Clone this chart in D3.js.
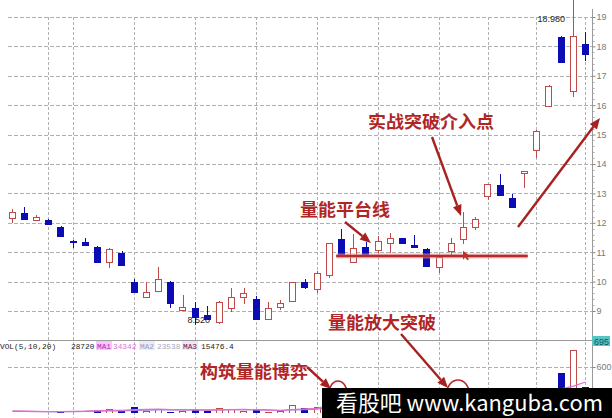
<!DOCTYPE html>
<html><head><meta charset="utf-8">
<script src="https://cdn.jsdelivr.net/npm/d3@7"></script>
<style>body{margin:0;background:#fff;overflow:hidden}svg{display:block}</style>
</head><body><svg id="c" width="612" height="418"></svg>
<script>
// ---------- data ----------
const days  = [0,1,2,3,4,5,6,7,8,9,10,11,12,13,14,15,16,17,18,19,20,21,22,23,24,25,26,27,28,29,30,31,32,33,34,35,36,37,38,39,40,41,42,43,44,45,46,47];
const opens = [12.17,12.32,12.10,12.10,11.87,11.38,11.33,11.19,10.68,10.98,10.00,9.47,9.69,10.00,9.03,9.11,8.86,8.64,9.09,9.47,9.41,8.73,9.15,9.34,9.98,9.74,10.22,11.44,10.68,11.16,11.07,11.30,11.47,11.24,11.10,10.49,11.05,11.44,11.87,12.92,13.29,12.83,13.68,14.48,15.98,18.33,16.49,18.07];
const highs = [12.46,12.55,12.27,12.14,11.90,11.40,11.47,11.21,11.15,11.04,10.09,10.00,10.49,10.02,9.54,9.32,9.18,9.34,9.77,9.79,9.51,9.32,9.37,10.00,10.09,10.37,11.30,11.78,11.62,11.36,11.55,11.66,11.49,11.58,11.13,10.87,11.49,12.36,12.20,13.32,13.66,12.97,13.77,15.15,16.68,18.35,19.60,18.48];
const lows  = [11.98,12.10,12.06,11.93,11.52,11.13,11.24,10.62,10.45,10.55,9.62,9.45,9.67,9.11,9.02,8.52,8.70,8.55,8.98,9.24,8.69,8.71,9.03,9.32,9.75,9.60,10.11,10.88,10.66,10.90,10.96,10.98,11.31,11.17,10.50,10.30,10.90,11.28,11.76,12.78,12.93,12.52,13.20,14.19,15.97,17.46,16.27,17.50];
const closes= [12.36,12.13,12.21,11.95,11.55,11.33,11.25,10.68,11.11,10.56,9.64,9.66,10.09,9.26,9.15,8.81,8.73,9.29,9.46,9.60,8.73,9.11,9.28,9.98,9.81,10.28,11.30,10.90,11.15,10.90,11.38,11.47,11.32,11.17,10.53,10.85,11.30,11.85,12.12,13.31,12.95,12.53,13.76,15.13,16.66,17.48,18.35,17.73];
const volumes=[430,428,426,432,434,430,431,443,447,438,454,440,447,436,438,442,440,450,447,441,443,436,440,461,450,454,500,495,470,460,455,458,450,445,470,462,480,505,490,500,495,480,500,515,520,578,662,527];
const ma1    =[440,439,438,437,437,438,439,441,442,442,444,445,446,444,443,444,441,443,444,445,443,442,441,444,447,449,462,471,477,479,474,468,462,456,457,458,463,474,481,487,494,492,492,497,502,520,530,545];
const ma2    =[438,438,437,437,437,437,438,439,440,440,441,442,443,443,443,443,443,443,444,444,444,443,442,443,444,446,452,457,461,462,462,461,461,461,462,464,466,469,472,474,477,479,482,486,490,500,508,516];
const priceTicks = [9,10,11,12,13,14,15,16,17,18,19];
const volTicks   = [600];
const gridDays   = [3,5,10,15,20,25,30,35,39,43,47];
const maxLabel = {day:46, price:18.98, text:"18.980"};
const minLabel = {day:15, price:8.52, text:"8.520"};
const platform = {from:26.6, to:42.3, price:10.87};
const volHeader = [
  {t:"VOL(5,10,20)", x:0, c:"#222"},
  {t:"28720", x:71, c:"#222"},
  {t:"MA1", x:97, c:"#c020c0", bg:"#f6c8f6"},
  {t:"34342", x:113, c:"#e070e0"},
  {t:"MA2", x:140, c:"#9a9ac8", bg:"#ececf6"},
  {t:"23538", x:157, c:"#a8a8bc"},
  {t:"MA3", x:183, c:"#602050", bg:"#f4e4ee"},
  {t:"15476.4", x:201, c:"#222"}
];
const notes = [
  {t:"实战突破介入点", x:368, y:128},
  {t:"量能平台线", x:300, y:216},
  {t:"量能放大突破", x:328, y:329},
  {t:"构筑量能博弈", x:200, y:378}
];
const arrows = [
  {x1:432, y1:137, x2:461, y2:216},
  {x1:345, y1:222, x2:371, y2:243},
  {x1:518, y1:227, x2:600, y2:118},
  {x1:401, y1:334, x2:448, y2:388},
  {x1:307, y1:367, x2:331, y2:389}
];
const circles = [{cx:338, cy:393, rx:9, ry:12},{cx:458, cy:393, rx:11, ry:13}];

// ---------- layout ----------
const L = 8, R = 592, mainBot = 340, volTop = 340, volBot = 413;
const svg = d3.select("#c");
const x = d3.scaleBand().domain(days).range([5.6, 591.2]).paddingInner(0.5).paddingOuter(0.25);
const xi = d3.scaleLinear().domain([0, 47]).range([x(0)+x.bandwidth()/2, x(47)+x.bandwidth()/2]);
const cx = d => Math.round(x(d) + x.bandwidth()/2) + 0.5;
const y = d3.scaleLinear().domain([9, 19]).range([311, 17]);
const vy = d3.scaleLinear().domain([600, 695]).range([367, 341]);
const UP = "#c04a4a", DN = "#0c0cb4", GRID = "#b0b0b0";

svg.append("rect").attr("width",612).attr("height",418).attr("fill","#fff");
const defs = svg.append("defs");
defs.append("clipPath").attr("id","mainClip").append("rect").attr("x",L).attr("y",0).attr("width",R-L).attr("height",mainBot);
defs.append("clipPath").attr("id","volClip").append("rect").attr("x",L).attr("y",volTop).attr("width",R-L).attr("height",volBot-volTop);

// grid
const g = svg.append("g").attr("shape-rendering","crispEdges");
g.selectAll(".hg").data(priceTicks).join("line")
  .attr("x1",L).attr("x2",R).attr("y1",d=>Math.round(y(d))+0.5).attr("y2",d=>Math.round(y(d))+0.5)
  .attr("stroke",GRID).attr("stroke-dasharray","4,2");
g.selectAll(".vg").data(gridDays).join("line")
  .attr("x1",d=>cx(d)).attr("x2",d=>cx(d)).attr("y1",Math.round(y(19))).attr("y2",418)
  .attr("stroke",GRID).attr("stroke-dasharray","3,2");
g.selectAll(".vvg").data(volTicks).join("line")
  .attr("x1",L).attr("x2",R).attr("y1",d=>Math.round(vy(d))+0.5).attr("y2",d=>Math.round(vy(d))+0.5)
  .attr("stroke",GRID).attr("stroke-dasharray","4,2");
g.append("line").attr("x1",L).attr("x2",R).attr("y1",volTop+0.5).attr("y2",volTop+0.5).attr("stroke","#9a9a9a");

// right axes
const ax = svg.append("g").attr("transform",`translate(${R+0.5},0)`);
ax.call(d3.axisRight(y).tickValues(priceTicks).tickSize(3).tickFormat(d3.format("d")));
ax.select(".domain").attr("stroke","#9a9a9a").attr("d",`M0,${y(19)-8}V418`);
ax.selectAll(".tick line").attr("stroke","#888");
ax.selectAll(".tick text").attr("x",4).attr("fill","#7a7a7a").style("font","9px 'Liberation Sans', sans-serif");
const minor = d3.range(0, priceTicks.length-1).flatMap(i => [0.2,0.4,0.6,0.8].map(f => priceTicks[i]+f));
ax.selectAll(".mt").data(minor).join("line").attr("x1",0).attr("x2",2)
  .attr("y1",d=>Math.round(y(d))+0.5).attr("y2",d=>Math.round(y(d))+0.5).attr("stroke","#aaa");
const vax = svg.append("g").attr("transform",`translate(${R+0.5},0)`);
vax.call(d3.axisRight(vy).tickValues(volTicks).tickSize(3).tickFormat(d3.format("d")));
vax.select(".domain").remove();
vax.selectAll(".tick line").attr("stroke","#888");
vax.selectAll(".tick text").attr("x",4).attr("fill","#7a7a7a").style("font","9px 'Liberation Sans', sans-serif");
svg.append("rect").attr("x",R).attr("y",336).attr("width",18).attr("height",10).attr("fill","#58c4c4");
svg.append("text").attr("x",R+2).attr("y",344.5).text("695").attr("fill","#14506a").style("font","9px 'Liberation Sans', sans-serif");

// candles
const cg = svg.append("g").attr("clip-path","url(#mainClip)").attr("shape-rendering","crispEdges");
days.forEach(d => {
  const o = opens[d], c = closes[d], h = highs[d], l = lows[d];
  const up = c >= o, col = up ? UP : DN;
  const x0 = Math.round(x(d)) + 0.5, w = Math.round(x.bandwidth());
  const top = Math.round(y(Math.max(o,c))) + 0.5, bot = Math.round(y(Math.min(o,c))) + 0.5;
  const xc = cx(d);
  if (up) {
    cg.append("line").attr("x1",xc).attr("x2",xc).attr("y1",y(h)).attr("y2",top).attr("stroke",col);
    cg.append("line").attr("x1",xc).attr("x2",xc).attr("y1",bot).attr("y2",y(l)).attr("stroke",col);
    cg.append("rect").attr("x",x0).attr("y",top).attr("width",w).attr("height",Math.max(1,bot-top)).attr("fill","#fff").attr("stroke",col);
  } else {
    cg.append("line").attr("x1",xc).attr("x2",xc).attr("y1",y(h)).attr("y2",y(l)).attr("stroke",col);
    cg.append("rect").attr("x",x0-0.5).attr("y",top-0.5).attr("width",w+1).attr("height",Math.max(2,bot-top+1)).attr("fill",col);
  }
});

// extreme labels
svg.append("text").attr("x",cx(maxLabel.day)-36).attr("y",y(maxLabel.price)+4.5).text(maxLabel.text)
  .attr("fill","#222").style("font","9px 'Liberation Sans', sans-serif");
svg.append("text").attr("x",cx(minLabel.day)-8).attr("y",y(minLabel.price)-2).text(minLabel.text)
  .attr("fill","#222").style("font","9px 'Liberation Sans', sans-serif");

// platform line
svg.append("line").attr("x1",xi(platform.from)).attr("x2",xi(platform.to)).attr("y1",y(platform.price)).attr("y2",y(platform.price))
  .attr("stroke","#e8a0a0").attr("stroke-width",5).attr("opacity",0.6);
svg.append("line").attr("x1",xi(platform.from)).attr("x2",xi(platform.to)).attr("y1",y(platform.price)).attr("y2",y(platform.price))
  .attr("stroke","#b52a2a").attr("stroke-width",2.5);

// volume
const vg = svg.append("g").attr("clip-path","url(#volClip)").attr("shape-rendering","crispEdges");
days.forEach(d => {
  const up = closes[d] >= opens[d];
  const x0 = Math.round(x(d)) + 0.5, w = Math.round(x.bandwidth());
  const t = Math.round(vy(volumes[d])) + 0.5;
  if (up) vg.append("rect").attr("x",x0).attr("y",t).attr("width",w).attr("height",volBot+5-t).attr("fill","#fff").attr("stroke",UP);
  else vg.append("rect").attr("x",x0-0.5).attr("y",t-0.5).attr("width",w+1).attr("height",volBot+5-t).attr("fill",DN);
});
const line = arr => d3.line().x(d=>cx(d)).y(d=>vy(arr[d]))(days);
svg.append("path").attr("clip-path","url(#volClip)").attr("d",line(ma2)).attr("fill","none").attr("stroke","#a080d8").attr("stroke-width",1.2);
svg.append("path").attr("clip-path","url(#volClip)").attr("d",line(ma1)).attr("fill","none").attr("stroke","#e070d0").attr("stroke-width",1.2);

// volume header
const hg = svg.append("g").style("font","7.8px 'Liberation Mono', monospace");
volHeader.forEach(h => {
  if (h.bg) hg.append("rect").attr("x",h.x-1).attr("y",341).attr("width",h.t.length*4.7+2).attr("height",9).attr("fill",h.bg);
  hg.append("text").attr("x",h.x).attr("y",348.5).text(h.t).attr("fill",h.c);
});

// annotations
const RED = "#a8201f";
circles.forEach(c => svg.append("ellipse").attr("cx",c.cx).attr("cy",c.cy).attr("rx",c.rx).attr("ry",c.ry)
  .attr("fill","none").attr("stroke","#b82828").attr("stroke-width",1.6));
arrows.forEach(a => {
  const ang = Math.atan2(a.y2-a.y1, a.x2-a.x1), len = 11, wid = 4.5;
  const bx = a.x2 - len*Math.cos(ang), by = a.y2 - len*Math.sin(ang);
  svg.append("line").attr("x1",a.x1).attr("y1",a.y1).attr("x2",bx).attr("y2",by).attr("stroke",RED).attr("stroke-width",2.4);
  const p = [[a.x2,a.y2],[bx - wid*Math.sin(ang), by + wid*Math.cos(ang)],[bx + wid*Math.sin(ang), by - wid*Math.cos(ang)]];
  svg.append("path").attr("d","M"+p.join("L")+"Z").attr("fill",RED);
});
// small pointer
svg.append("path").attr("d",`M${cx(37)-0.5},${y(11.05)}l0,9l2,-2.5l2.5,3l1.5,-1l-2.5,-3l3,-0.5Z`).attr("fill","#c0302a");
notes.forEach(n => svg.append("text").attr("x",n.x).attr("y",n.y).text(n.t).attr("fill","#b02626")
  .style("font","bold 17.5px 'Noto Sans CJK SC', sans-serif").attr("textLength",n.t.length*18).attr("lengthAdjust","spacingAndGlyphs"));

// watermark
svg.append("rect").attr("x",322).attr("y",388).attr("width",290).attr("height",30).attr("fill","#000");
svg.append("text").attr("x",336).attr("y",411).text("看股吧 www.kanguba.com").attr("fill","#fff")
  .style("font","22px 'Noto Sans CJK SC', sans-serif").attr("textLength",267).attr("lengthAdjust","spacingAndGlyphs");
</script></body></html>
